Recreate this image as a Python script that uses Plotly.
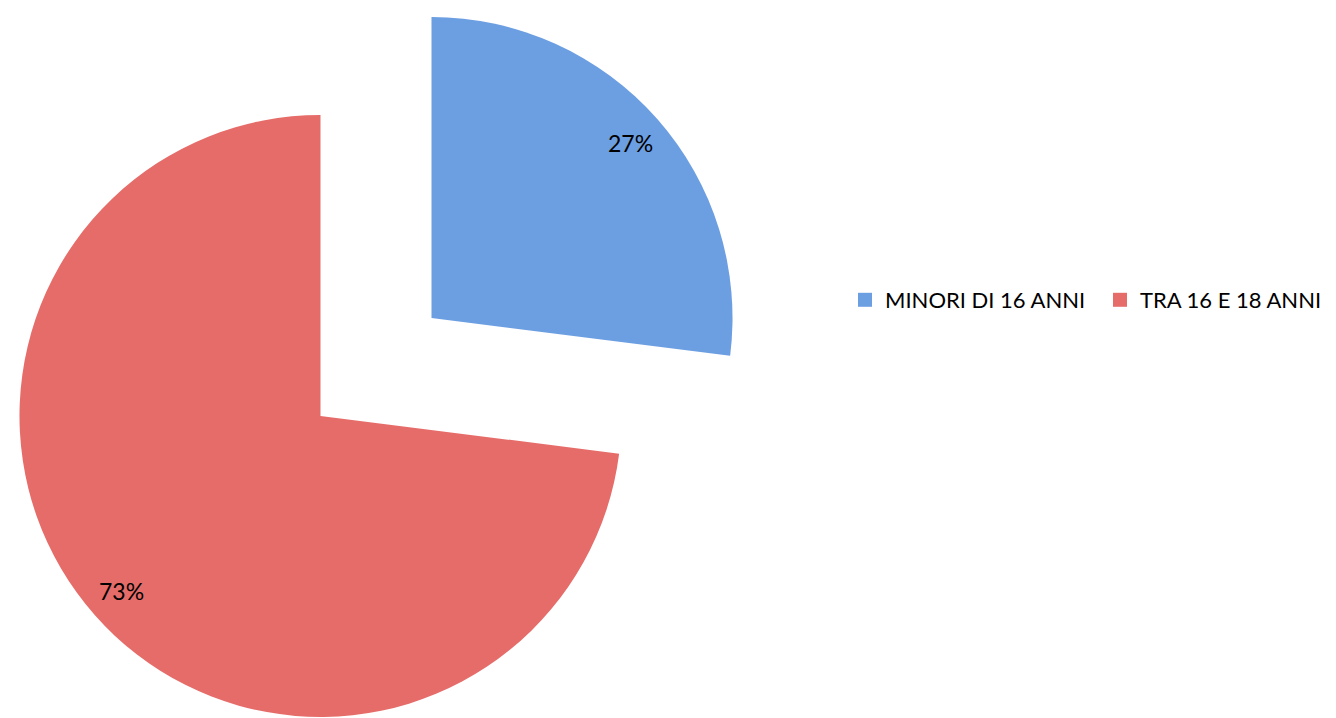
import math
import plotly.graph_objects as go

# ---- data ----
labels = ["MINORI DI 16 ANNI", "TRA 16 E 18 ANNI"]
values = [27, 73]
colors = ["#6C9EE2", "#E66C69"]

# ---- layout / style ----
W, H = 1336, 718
R = 301              # pie radius in px
CENTER = (368, 359)  # pie centre (px, figure coords) before exploding
EXPLODE = 74         # px each slice is pulled out
LABEL_R = 0.88       # label distance as fraction of radius
FONT = "Lato"

total = sum(values)
fig = go.Figure()
start = 0.0
for i, (lab, v, col) in enumerate(zip(labels, values, colors)):
    frac = v / total
    mid = (start + frac / 2) * 2 * math.pi
    start += frac
    cx = CENTER[0] + EXPLODE * math.sin(mid)
    cy = CENTER[1] - EXPLODE * math.cos(mid)
    slice_colors = [c if j == i else "rgba(0,0,0,0)" for j, c in enumerate(colors)]
    fig.add_trace(go.Pie(
        labels=labels, values=values, sort=False, direction="clockwise", rotation=0,
        marker=dict(colors=slice_colors, line=dict(width=0)),
        textinfo="none", showlegend=False, hoverinfo="skip",
        domain=dict(x=[(cx - R) / W, (cx + R) / W], y=[1 - (cy + R) / H, 1 - (cy - R) / H]),
    ))
    lx = cx + LABEL_R * R * math.sin(mid)
    ly = cy - LABEL_R * R * math.cos(mid)
    fig.add_annotation(x=lx / W, y=1 - ly / H, xref="paper", yref="paper",
                       xanchor="center", yanchor="middle",
                       text=f"{round(100 * frac)}%", showarrow=False,
                       font=dict(family=FONT, size=23, color="#000000"))

# legend entries
for lab, col in zip(labels, colors):
    fig.add_trace(go.Scatter(x=[None], y=[None], mode="markers", name=lab,
                             marker=dict(symbol="square", size=14, color=col)))

fig.update_xaxes(visible=False)
fig.update_yaxes(visible=False)
fig.update_layout(
    width=W, height=H,
    margin=dict(l=0, r=0, t=0, b=0, autoexpand=False),
    paper_bgcolor="white", plot_bgcolor="white",
    legend=dict(orientation="h", x=0.6265, xanchor="left", y=1 - 292 / H, yanchor="middle",
                entrywidth=210, entrywidthmode="pixels",
                font=dict(family=FONT, size=22, color="#000000"), bgcolor="rgba(0,0,0,0)"),
)
fig.write_html("out.html")
